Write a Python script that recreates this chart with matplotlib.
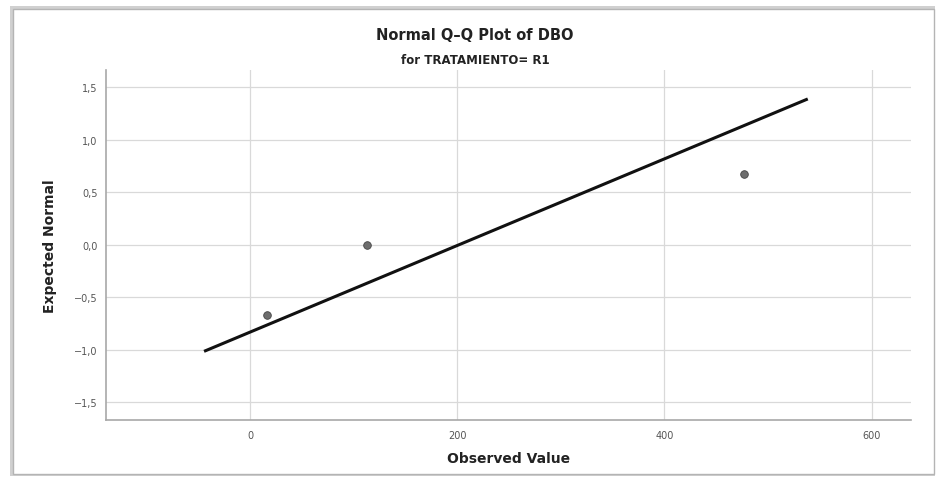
import numpy as np
from matplotlib import pyplot as plt
from matplotlib.patches import Rectangle

# data
observed = [16, 113, 477]
expected = [-0.674, 0.0, 0.674]
line_x = [-43, 537]
line_y = [-1.01, 1.381]

x_ticks = [0, 200, 400, 600]
y_ticks = [-1.5, -1.0, -0.5, 0.0, 0.5, 1.0, 1.5]
y_labels = [f"{v:.1f}".replace(".", ",").replace("-", "\u2212") for v in y_ticks]

plt.rcParams['font.family'] = ['DejaVu Sans']

fig = plt.figure(figsize=(9.37, 4.81), dpi=100)
W, H = 937, 481

# outer frame with soft shadow
fig.patches.append(Rectangle((10 / W, 4 / H), 925 / W, 470 / H, transform=fig.transFigure,
                             facecolor="#d0d0d0", edgecolor="none", zorder=-3))
fig.patches.append(Rectangle((13 / W, 6 / H), 921 / W, 465 / H, transform=fig.transFigure,
                             facecolor="white", edgecolor="#b4b4b4", linewidth=1.0, zorder=-2))

ax = fig.add_axes([106 / W, 1 - 421 / H, (911 - 106) / W, (421 - 71) / H])
ax.patch.set_alpha(0)
ax.set_xlim(-139, 638)
ax.set_ylim(-1.669, 1.662)

ax.grid(True, color="#d9d9d9", linewidth=0.9)
ax.set_axisbelow(True)

ax.plot(line_x, line_y, color="#111111", linewidth=2.2, zorder=3)
ax.scatter(observed, expected, s=30, color="#6e6e6e", edgecolors="#444444",
           linewidths=0.6, zorder=4)

ax.set_xticks(x_ticks)
ax.set_yticks(y_ticks)
ax.set_yticklabels(y_labels)
ax.tick_params(length=0, labelsize=7, colors="#555555")
ax.tick_params(axis="x", pad=7)
ax.tick_params(axis="y", pad=6)

for side in ["top", "right"]:
    ax.spines[side].set_visible(False)
for side in ["left", "bottom"]:
    ax.spines[side].set_color("#a8a8a8")
    ax.spines[side].set_linewidth(1.2)

ax.set_xlabel("Observed Value", fontsize=10, fontweight="bold", color="#222222", labelpad=8)
ax.set_ylabel("Expected Normal", fontsize=10, fontweight="bold", color="#222222", labelpad=12)

fig.text(475 / W, 1 - 35 / H, "Normal Q\u2013Q Plot of DBO", ha="center", va="center",
         fontsize=10.5, fontweight="bold", color="#222222")
fig.text(475 / W, 1 - 61 / H, "for TRATAMIENTO= R1", ha="center", va="center",
         fontsize=8.5, fontweight="bold", color="#222222")

fig.savefig("out.png", dpi=100)
